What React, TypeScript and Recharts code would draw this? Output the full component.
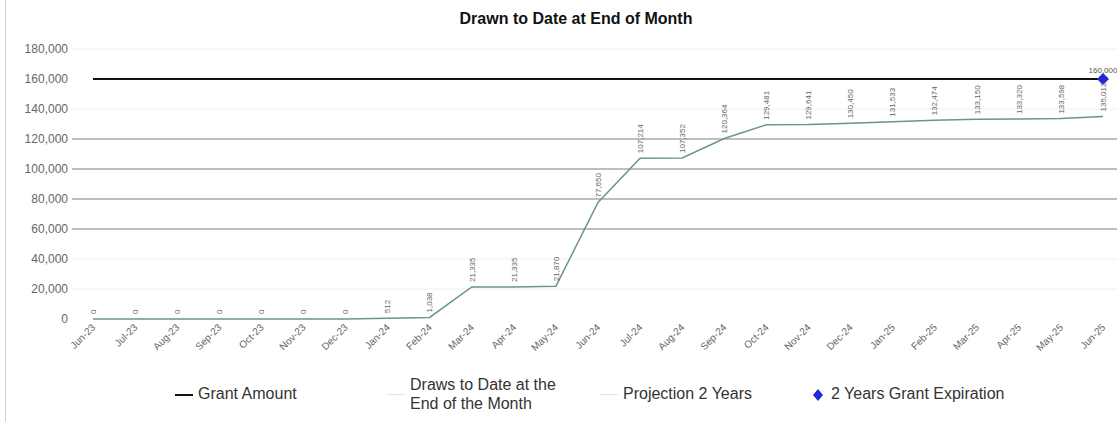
import { LineChart, Line, XAxis, YAxis, ReferenceLine, LabelList } from 'recharts';

const months = [
  'Jun-23', 'Jul-23', 'Aug-23', 'Sep-23', 'Oct-23', 'Nov-23', 'Dec-23',
  'Jan-24', 'Feb-24', 'Mar-24', 'Apr-24', 'May-24', 'Jun-24', 'Jul-24',
  'Aug-24', 'Sep-24', 'Oct-24', 'Nov-24', 'Dec-24', 'Jan-25', 'Feb-25',
  'Mar-25', 'Apr-25', 'May-25', 'Jun-25',
];

const draws = [
  0, 0, 0, 0, 0, 0, 0, 512, 1038, 21335, 21335, 21870, 77650, 107214,
  107352, 120364, 129481, 129641, 130450, 131533, 132474, 133150, 133320,
  133598, 135012,
];

const grantAmount = 160000;
const expirationMonth = 'Jun-25';

const yTicks = [0, 20000, 40000, 60000, 80000, 100000, 120000, 140000, 160000, 180000];
const strongGrid = [60000, 80000, 100000, 120000];
const faintGrid = [20000, 40000, 140000, 180000];

const data = months.map((m, i) => ({
  month: m,
  draws: draws[i],
  grant: grantAmount,
  expiration: m === expirationMonth ? grantAmount : null,
}));

const fmt = (v: number) => v.toLocaleString('en-US');
const font = '"Liberation Sans", Arial, sans-serif';

function MonthTick({ x, y, payload }: any) {
  return (
    <g transform={`translate(${x},${y})`}>
      <text
        transform="translate(3,9) rotate(-45)"
        textAnchor="end"
        fontSize={10}
        fill="#666"
        fontFamily={font}
      >
        {payload.value}
      </text>
    </g>
  );
}

function DrawLabel({ x, y, value }: any) {
  if (value == null) return null;
  const ly = y - 5;
  return (
    <text
      x={x}
      y={ly}
      transform={`rotate(-90, ${x}, ${ly})`}
      dy="0.35em"
      textAnchor="start"
      fontSize={8}
      fill="#666"
      fontFamily={font}
    >
      {fmt(value)}
    </text>
  );
}

function ExpirationLabel({ x, y, value }: any) {
  if (value == null) return null;
  return (
    <text x={x} y={y - 6} textAnchor="middle" fontSize={8} fill="#555" fontFamily={font}>
      {fmt(value)}
    </text>
  );
}

function Diamond({ cx, cy, value, index }: any) {
  if (value == null || cx == null || cy == null) return <g key={`d${index}`} />;
  const r = 6;
  return (
    <polygon
      key={`d${index}`}
      points={`${cx},${cy - r} ${cx + r},${cy} ${cx},${cy + r} ${cx - r},${cy}`}
      fill="#1f2bd6"
    />
  );
}

export default function App() {
  return (
    <div
      style={{
        position: 'absolute',
        left: 0,
        top: 0,
        width: 1117,
        height: 427,
        overflow: 'hidden',
        background: '#fff',
        fontFamily: font,
      }}
    >
      <div style={{ position: 'absolute', left: 5, top: 0, width: 1, height: 422, background: '#d4d4d4' }} />
      <div
        style={{
          position: 'absolute',
          left: 376,
          top: 10,
          width: 400,
          textAlign: 'center',
          fontSize: 16,
          fontWeight: 'bold',
          color: '#111',
        }}
      >
        Drawn to Date at End of Month
      </div>

      <LineChart
        width={1140}
        height={427}
        data={data}
        margin={{ top: 49, right: 16, left: 12, bottom: 58 }}
      >
        <XAxis
          dataKey="month"
          interval={0}
          padding={{ left: 21, right: 21 }}
          axisLine={false}
          tickLine={false}
          tickSize={0}
          tickMargin={0}
          height={50}
          tick={<MonthTick />}
        />
        <YAxis
          domain={[0, 180000]}
          ticks={yTicks}
          axisLine={false}
          tickLine={false}
          tickSize={0}
          tickMargin={4}
          width={60}
          tickFormatter={fmt}
          tick={{ fontSize: 12, fill: '#666', fontFamily: font }}
        />
        {faintGrid.map((v) => (
          <ReferenceLine key={`f${v}`} y={v} stroke="#efefef" strokeWidth={1} />
        ))}
        {strongGrid.map((v) => (
          <ReferenceLine key={`s${v}`} y={v} stroke="#a8a8a8" strokeWidth={1.5} />
        ))}
        <Line
          dataKey="grant"
          stroke="#111"
          strokeWidth={2}
          dot={false}
          isAnimationActive={false}
        />
        <Line
          dataKey="draws"
          stroke="#6a9687"
          strokeWidth={1.5}
          dot={false}
          isAnimationActive={false}
        >
          <LabelList dataKey="draws" content={<DrawLabel />} />
        </Line>
        <Line
          dataKey="expiration"
          stroke="none"
          dot={<Diamond />}
          activeDot={false}
          isAnimationActive={false}
        >
          <LabelList dataKey="expiration" content={<ExpirationLabel />} />
        </Line>
      </LineChart>

      <div style={{ position: 'absolute', top: 385, left: 0, width: 1117, height: 30, fontSize: 16, color: '#333' }}>
        <div style={{ position: 'absolute', left: 175, top: 9, width: 18, height: 2, background: '#111' }} />
        <div style={{ position: 'absolute', left: 198, top: 0 }}>Grant Amount</div>

        <div style={{ position: 'absolute', left: 387, top: 9, width: 18, height: 1, background: '#e4e4e4' }} />
        <div style={{ position: 'absolute', left: 410, top: -10, lineHeight: '19px' }}>
          Draws to Date at the
          <br />
          End of the Month
        </div>

        <div style={{ position: 'absolute', left: 600, top: 9, width: 18, height: 1, background: '#e4e4e4' }} />
        <div style={{ position: 'absolute', left: 623, top: 0 }}>Projection 2 Years</div>

        <svg style={{ position: 'absolute', left: 813, top: 4 }} width={10} height={12}>
          <polygon points="5,0 10,6 5,12 0,6" fill="#1f2bd6" />
        </svg>
        <div style={{ position: 'absolute', left: 831, top: 0 }}>2 Years Grant Expiration</div>
      </div>
    </div>
  );
}
